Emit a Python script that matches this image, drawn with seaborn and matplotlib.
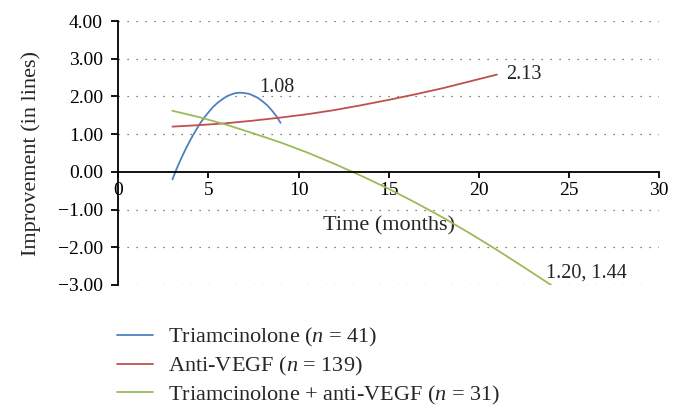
import matplotlib
matplotlib.use('Agg')
import matplotlib.pyplot as plt
import pandas as pd
import seaborn as sns

# values
tri_x = [3, 3.25, 3.5, 3.75, 4, 4.25, 4.5, 4.75, 5, 5.25, 5.5, 5.75, 6,
         6.25, 6.5, 6.75, 7, 7.25, 7.5, 7.75, 8, 8.25, 8.5, 8.75, 9]
tri_y = [-0.20, 0.10, 0.37, 0.62, 0.85, 1.06, 1.26, 1.43, 1.58, 1.72, 1.83, 1.92, 2.00,
         2.05, 2.09, 2.10, 2.09, 2.07, 2.02, 1.96, 1.87, 1.77, 1.64, 1.49, 1.30]
vegf_x = [3, 4.5, 6, 7.5, 9, 10.5, 12, 13.5, 15, 16.5, 18, 19.5, 21]
vegf_y = [1.20, 1.24, 1.29, 1.36, 1.44, 1.53, 1.64, 1.77, 1.91, 2.06, 2.22, 2.40, 2.58]
combo_x = [3, 4.5, 6, 7.5, 9, 10.5, 12, 13.5, 15, 16.5, 18, 19.5, 21, 22.5, 24]
combo_y = [1.62, 1.45, 1.25, 1.02, 0.78, 0.51, 0.21, -0.11, -0.45, -0.82, -1.21,
           -1.63, -2.07, -2.53, -3.0]

labels = ['Triamcinolone ($n$ = 41)', 'Anti-VEGF ($n$ = 139)',
          'Triamcinolone + anti-VEGF ($n$ = 31)']
colors = ['#4F81BD', '#C0504D', '#9BBB59']
end_notes = ['1.08', '2.13', '1.20, 1.44']
note_pos = [(7.8, 2.23), (21.5, 2.57), (23.75, -2.68)]

y_ticks = [4, 3, 2, 1, 0, -1, -2, -3]
x_ticks = [0, 5, 10, 15, 20, 25, 30]

df = pd.concat([
    pd.DataFrame({'time': tri_x, 'improvement': tri_y, 'group': labels[0]}),
    pd.DataFrame({'time': vegf_x, 'improvement': vegf_y, 'group': labels[1]}),
    pd.DataFrame({'time': combo_x, 'improvement': combo_y, 'group': labels[2]}),
])

sns.set_style('white')
plt.rcParams['font.family'] = ['Liberation Serif', 'DejaVu Serif']
plt.rcParams['mathtext.fontset'] = 'custom'
plt.rcParams['mathtext.it'] = 'Liberation Serif:italic'
plt.rcParams['mathtext.rm'] = 'Liberation Serif'

fig = plt.figure(figsize=(6.82, 4.13), dpi=100)
ax = fig.add_axes([0.1735, 0.310, 0.793, 0.639])

sns.lineplot(data=df, x='time', y='improvement', hue='group', hue_order=labels,
             palette=colors, ax=ax, linewidth=1.3, sort=True, estimator=None)

# dotted gridlines at every non-zero y tick
for yt in y_ticks:
    if yt != 0:
        ax.plot([0, 30], [yt, yt], linestyle=(0, (1, 6.2)), color='#555555',
                linewidth=0.9, zorder=0)

ax.set_xlim(0, 30)
ax.set_ylim(-3, 4)
ax.set_xticks(x_ticks)
ax.set_yticks(y_ticks)
ax.set_yticklabels([f'{v:.2f}'.replace('-', '\u2212') for v in y_ticks])

for s in ['top', 'right']:
    ax.spines[s].set_visible(False)
ax.spines['bottom'].set_position(('data', 0))
for s in ['bottom', 'left']:
    ax.spines[s].set_linewidth(1.3)
    ax.spines[s].set_color('black')
ax.tick_params(axis='both', direction='out', length=5, width=1.3, labelsize=14,
               colors='black', bottom=True, left=True)
ax.tick_params(axis='x', pad=3, length=4)
ax.tick_params(axis='y', pad=6)

ax.set_xlabel('Time (months)', fontsize=16)
ax.xaxis.set_label_coords(0.5, 0.262)
ax.set_ylabel('Improvement (in lines)', fontsize=16, labelpad=12)

for txt, (tx, ty) in zip(end_notes, note_pos):
    ax.text(tx, ty, txt, fontsize=14.5, va='center', ha='left')

leg = ax.legend(loc='upper left', bbox_to_anchor=(0.158, 0.232),
                bbox_transform=fig.transFigure, frameon=False, fontsize=16,
                handlelength=1.65, handletextpad=0.68, labelspacing=0.26,
                borderaxespad=0)
for line in leg.get_lines():
    line.set_linewidth(1.3)

fig.savefig('out.png', dpi=100)
